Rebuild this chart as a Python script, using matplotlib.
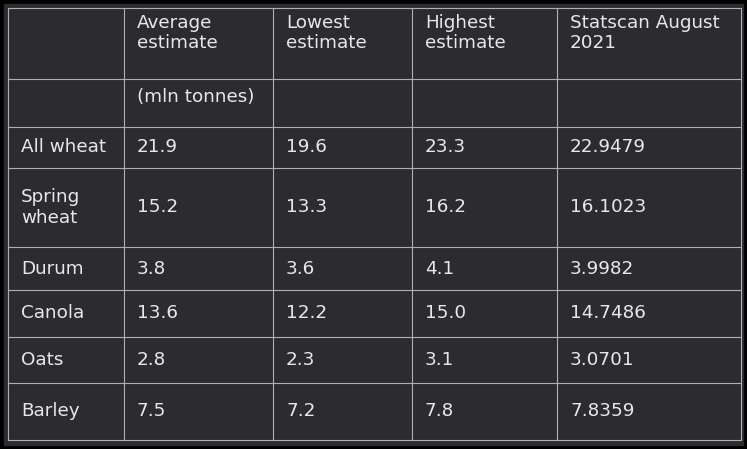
import matplotlib.pyplot as plt

header = ["", "Average\nestimate", "Lowest\nestimate", "Highest\nestimate", "Statscan August\n2021"]
units = ["", "(mln tonnes)", "", "", ""]
crops = ["All wheat", "Spring\nwheat", "Durum", "Canola", "Oats", "Barley"]
average = ["21.9", "15.2", "3.8", "13.6", "2.8", "7.5"]
lowest = ["19.6", "13.3", "3.6", "12.2", "2.3", "7.2"]
highest = ["23.3", "16.2", "4.1", "15.0", "3.1", "7.8"]
statscan = ["22.9479", "16.1023", "3.9982", "14.7486", "3.0701", "7.8359"]

W, H = 747, 449
col_x = [8, 124, 273, 412, 557, 741]
row_y = [8, 79, 127, 168, 247, 290, 337, 383, 440]

fig = plt.figure(figsize=(W / 100, H / 100), dpi=100)
fig.patch.set_facecolor("black")
ax = fig.add_axes([0, 0, 1, 1])
ax.set_xlim(0, W)
ax.set_ylim(H, 0)
ax.axis("off")
ax.add_patch(plt.Rectangle((4, 4), W - 8, H - 8, color="#2c2b30", zorder=0))

line_c = "#b0b0b0"
for x in col_x:
    ax.plot([x, x], [row_y[0], row_y[-1]], color=line_c, lw=0.8)
for y in row_y:
    ax.plot([col_x[0], col_x[-1]], [y, y], color=line_c, lw=0.8)

rows = [header, units] + [list(r) for r in zip(crops, average, lowest, highest, statscan)]
txt_c = "#e8e8e8"
fs = 13.2
for i, row in enumerate(rows):
    top, bot = row_y[i], row_y[i + 1]
    for j, val in enumerate(row):
        if not val:
            continue
        x = col_x[j] + 13
        if i == 0:
            ax.text(x, top + 6, val, color=txt_c, fontsize=fs, va="top", ha="left",
                    linespacing=1.15)
        elif i == 1:
            ax.text(x, top + 9, val, color=txt_c, fontsize=fs, va="top", ha="left")
        else:
            ax.text(x, (top + bot) / 2, val, color=txt_c, fontsize=fs, va="center",
                    ha="left", linespacing=1.15)

fig.savefig("out.png", dpi=100, facecolor=fig.get_facecolor())
